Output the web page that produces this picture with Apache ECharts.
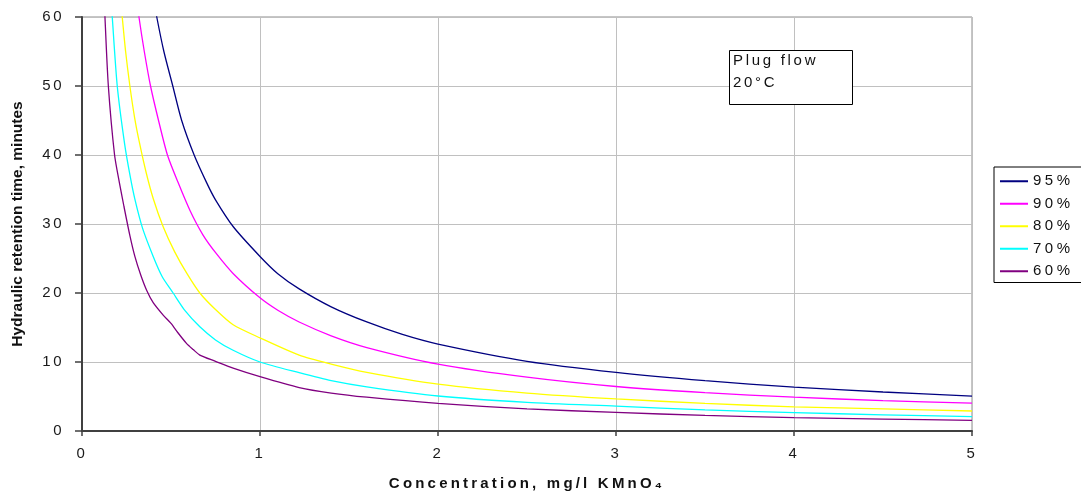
<!DOCTYPE html>
<html>
<head>
<meta charset="utf-8">
<script src="https://cdn.jsdelivr.net/npm/echarts@6/dist/echarts.min.js"></script>
<style>
  html, body { margin: 0; padding: 0; background: #fff; }
  #chart { width: 1081px; height: 498px; }
</style>
</head>
<body>
<div id="chart"></div>
<script>
// ---------- data ----------
const seriesNames = ['95%', '90%', '80%', '70%', '60%'];
const xTicks = [0, 1, 2, 3, 4, 5];
const yTicks = [0, 10, 20, 30, 40, 50, 60];

const x95 = [0.40, 0.42, 0.46, 0.51, 0.56, 0.63, 0.70, 0.75, 0.85, 1.00, 1.10, 1.22, 1.40, 1.60, 1.80, 2.00, 2.50, 3.00, 3.50, 4.00, 4.50, 5.00];
const y95 = [63, 60, 55, 50, 45, 40, 36, 33.5, 29.6, 25.3, 22.8, 20.6, 18, 15.8, 14, 12.6, 10.1, 8.5, 7.3, 6.35, 5.65, 5.05];

const x90 = [0.30, 0.32, 0.35, 0.385, 0.43, 0.48, 0.54, 0.606, 0.68, 0.755, 0.85, 1.00, 1.10, 1.22, 1.40, 1.60, 2.00, 2.50, 3.00, 3.50, 4.00, 4.50, 5.00];
const y90 = [64, 60, 55, 50, 45, 40, 36, 32, 28.4, 25.7, 22.8, 19.3, 17.5, 15.8, 13.8, 12.1, 9.7, 7.8, 6.45, 5.55, 4.9, 4.4, 4.05];

const x80 = [0.21, 0.226, 0.245, 0.269, 0.295, 0.321, 0.36, 0.40, 0.456, 0.52, 0.59, 0.662, 0.75, 0.849, 1.00, 1.22, 1.40, 1.60, 2.00, 2.50, 3.00, 3.50, 4.00, 4.50, 5.00];
const y80 = [64.5, 60, 55, 50, 45.5, 42, 37.5, 33.7, 29.6, 26, 22.8, 20, 17.6, 15.4, 13.5, 11.0, 9.7, 8.5, 6.8, 5.5, 4.65, 4.0, 3.5, 3.2, 2.9];

const x70 = [0.16, 0.17, 0.198, 0.24, 0.27, 0.297, 0.34, 0.40, 0.45, 0.512, 0.58, 0.662, 0.75, 0.849, 1.00, 1.22, 1.40, 1.60, 2.00, 2.50, 3.00, 3.50, 4.00, 4.50, 5.00];
const y70 = [64, 60, 50, 41.5, 37, 33.6, 29.4, 25.3, 22.4, 20, 17.4, 15.1, 13.2, 11.7, 10.0, 8.45, 7.3, 6.4, 5.07, 4.15, 3.6, 3.05, 2.66, 2.35, 2.08];

const x60 = [0.12, 0.129, 0.148, 0.183, 0.21, 0.236, 0.27, 0.297, 0.33, 0.363, 0.40, 0.456, 0.50, 0.54, 0.587, 0.625, 0.662, 0.75, 0.849, 1.00, 1.22, 1.40, 1.60, 2.00, 2.50, 3.00, 3.50, 4.00, 4.50, 5.00];
const y60 = [66, 60, 50, 40, 36, 32.5, 28.2, 25.3, 22.6, 20.4, 18.6, 16.8, 15.6, 14.2, 12.7, 11.8, 11.0, 10.1, 9.1, 7.87, 6.3, 5.5, 4.9, 4.0, 3.2, 2.7, 2.25, 1.93, 1.72, 1.55];

const seriesX = [x95, x90, x80, x70, x60];
const seriesY = [y95, y90, y80, y70, y60];

const xTitle = 'Concentration, mg/l KMnO\u2084';
const yTitle = 'Hydraulic retention time, minutes';
const noteText = 'Plug flow\n20\u00B0C';

// ---------- styles ----------
const colors = ['#000080', '#FF00FF', '#FFFF00', '#00FFFF', '#800080'];

// letter spacing helper: a dummy family "lsNN" in the font list means NN/10 px spacing
(function () {
  const proto = CanvasRenderingContext2D.prototype;
  if (!('letterSpacing' in proto)) return;
  function applySp(ctx) {
    const m = /ls(\d+)/.exec(ctx.font || '');
    const v = m ? (parseInt(m[1], 10) / 10) + 'px' : '0px';
    if (ctx.letterSpacing !== v) ctx.letterSpacing = v;
  }
  ['fillText', 'strokeText', 'measureText'].forEach(function (n) {
    const o = proto[n];
    proto[n] = function () { applySp(this); return o.apply(this, arguments); };
  });
})();

const FF = 'Liberation Sans';
function fam(sp) { return FF + ', ls' + sp; }

const chart = echarts.init(document.getElementById('chart'), null, { renderer: 'canvas' });

const option = {
  animation: false,
  backgroundColor: '#fff',
  grid: {
    left: 82, right: 109, top: 17, bottom: 67,
    outerBoundsMode: 'none', containLabel: false,
    show: true, borderColor: '#8c8c8c', borderWidth: 1
  },
  xAxis: {
    type: 'value', min: xTicks[0], max: xTicks[xTicks.length - 1], interval: 1,
    axisLine: { show: true, lineStyle: { color: '#404040', width: 2 } },
    axisTick: { show: true, length: 5, lineStyle: { color: '#404040', width: 1.5 } },
    splitLine: { show: true, lineStyle: { color: '#c0c0c0', width: 1 } },
    axisLabel: { fontSize: 15, fontFamily: fam(25), color: '#1a1a1a', margin: 14 },
    name: xTitle, nameLocation: 'middle', nameGap: 44,
    nameTextStyle: { fontSize: 15, fontWeight: 'bold', fontFamily: fam(32), color: '#111' }
  },
  yAxis: {
    type: 'value', min: yTicks[0], max: yTicks[yTicks.length - 1], interval: 10,
    axisLine: { show: true, lineStyle: { color: '#404040', width: 2 } },
    axisTick: { show: true, length: 7, lineStyle: { color: '#404040', width: 1.5 } },
    splitLine: { show: true, lineStyle: { color: '#c0c0c0', width: 1 } },
    axisLabel: { fontSize: 15, fontFamily: fam(25), color: '#1a1a1a', margin: 18 },
    name: yTitle, nameLocation: 'middle', nameGap: 56,
    nameTextStyle: { fontSize: 15.5, fontWeight: 'bold', fontFamily: FF, color: '#111' }
  },
  legend: {
    orient: 'vertical', left: 994, top: 167,
    padding: [5, 10, 2, 6],
    borderColor: '#000', borderWidth: 1, backgroundColor: '#fff',
    itemWidth: 28, itemHeight: 2, itemGap: 4, icon: 'rect',
    textStyle: { fontSize: 15, fontFamily: fam(35), color: '#111', lineHeight: 16 },
    data: seriesNames
  },
  graphic: [
    {
      type: 'rect', z: 100,
      shape: { x: 729.5, y: 50.5, width: 123, height: 54 },
      style: { fill: '#fff', stroke: '#000', lineWidth: 1 }
    },
    {
      type: 'text', z: 101, x: 733, y: 49.5,
      style: {
        text: noteText, fontSize: 15, fontFamily: fam(27), fill: '#111',
        lineHeight: 22.5, textAlign: 'left', textVerticalAlign: 'top'
      }
    }
  ],
  series: seriesNames.map(function (name, i) {
    return {
      name: name, type: 'line',
      data: seriesX[i].map(function (x, j) { return [x, seriesY[i][j]]; }),
      showSymbol: false, symbol: 'none',
      smooth: 0.25, clip: true,
      lineStyle: { color: colors[i], width: 1.3 },
      itemStyle: { color: colors[i] },
      z: 10 - i
    };
  })
};

chart.setOption(option);
</script>
</body>
</html>
